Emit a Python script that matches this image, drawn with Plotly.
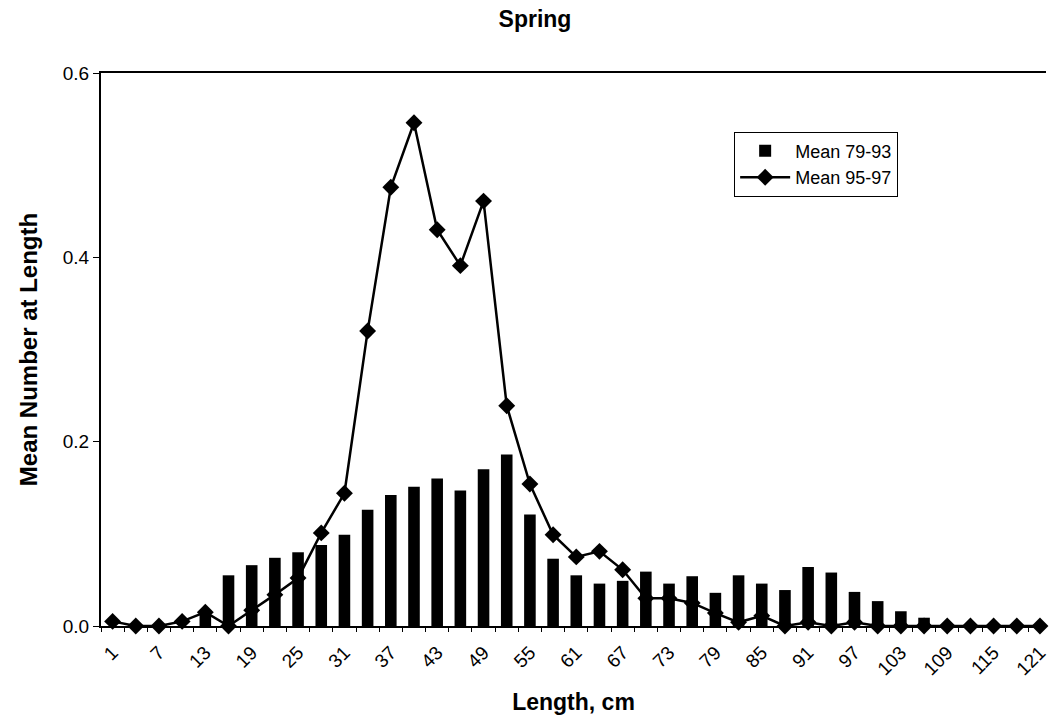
import plotly.graph_objects as go

# Length classes (cm)
lengths = [1, 4, 7, 10, 13, 16, 19, 22, 25, 28, 31, 34, 37, 40, 43, 46, 49, 52, 55, 58,
           61, 64, 67, 70, 73, 76, 79, 82, 85, 88, 91, 94, 97, 100, 103, 106, 109, 112,
           115, 118, 121]

mean_79_93 = [0, 0, 0, 0, 0.012, 0.055, 0.066, 0.074, 0.080, 0.088,
              0.099, 0.126, 0.142, 0.151, 0.160, 0.147, 0.170, 0.186, 0.121, 0.073,
              0.055, 0.046, 0.049, 0.059, 0.046, 0.054, 0.036, 0.055, 0.046, 0.039,
              0.064, 0.058, 0.037, 0.027, 0.016, 0.009, 0, 0, 0, 0, 0]

mean_95_97 = [0.005, 0, 0, 0.005, 0.015, 0, 0.017, 0.034, 0.052, 0.101,
              0.144, 0.320, 0.476, 0.546, 0.430, 0.391, 0.461, 0.239, 0.154, 0.099,
              0.075, 0.081, 0.061, 0.030, 0.030, 0.025, 0.014, 0.004, 0.011, 0,
              0.004, 0, 0.004, 0, 0, 0, 0, 0, 0, 0, 0]

tick_labels = [1, 7, 13, 19, 25, 31, 37, 43, 49, 55, 61, 67, 73, 79, 85, 91, 97, 103, 109, 115, 121]

FONT = "Arial, Liberation Sans, sans-serif"

fig = go.Figure()
fig.add_trace(go.Bar(
    x=lengths, y=mean_79_93, name="Mean 79-93",
    marker=dict(color="black", line=dict(width=0)), width=1.5,
))
fig.add_trace(go.Scatter(
    x=lengths, y=mean_95_97, name="Mean 95-97", mode="lines+markers",
    line=dict(color="black", width=2.5),
    marker=dict(symbol="diamond", size=13, color="black"),
    cliponaxis=False,
))

fig.update_layout(
    width=1049, height=724,
    margin=dict(l=101, r=0, t=73, b=98),
    paper_bgcolor="white", plot_bgcolor="white",
    font=dict(family=FONT, color="black", size=18),
    title=dict(text="Spring", x=535/1049, xref="container", xanchor="center",
               y=1 - 19/724, yref="container", yanchor="middle",
               font=dict(family=FONT, size=23, weight="bold", color="black")),
    showlegend=True,
    legend=dict(x=0.67, y=0.894, xanchor="left", yanchor="top",
                bordercolor="black", borderwidth=1, bgcolor="white",
                font=dict(family=FONT, size=18), itemwidth=50,
                traceorder="normal", tracegroupgap=0),
    bargap=0.5,
)
fig.update_xaxes(
    range=[-0.5, 121.78], tickmode="array", tickvals=tick_labels,
    ticktext=[str(v) for v in tick_labels], tickangle=-45,
    tickfont=dict(size=19), ticks="", ticklabeloverflow="allow",
    ticklabelstandoff=6,
    showline=True, linecolor="black", linewidth=2, mirror=True,
    showgrid=False, zeroline=False,
    minor=dict(tickmode="linear", tick0=-0.5, dtick=3, ticks="outside",
               ticklen=4, tickcolor="black", showgrid=False),
    title=dict(text="Length, cm", font=dict(family=FONT, size=23, weight="bold"),
               standoff=16),
)
fig.update_yaxes(
    range=[0, 0.6], dtick=0.2, tickformat=".1f", ticks="outside", ticklen=6,
    tickcolor="black", tickfont=dict(size=19),
    showline=True, linecolor="black", linewidth=2, mirror=False,
    showgrid=False, zeroline=False,
    title=dict(text="Mean Number at Length", font=dict(family=FONT, size=24, weight="bold"),
               standoff=18),
)

fig.write_html("out.html")
